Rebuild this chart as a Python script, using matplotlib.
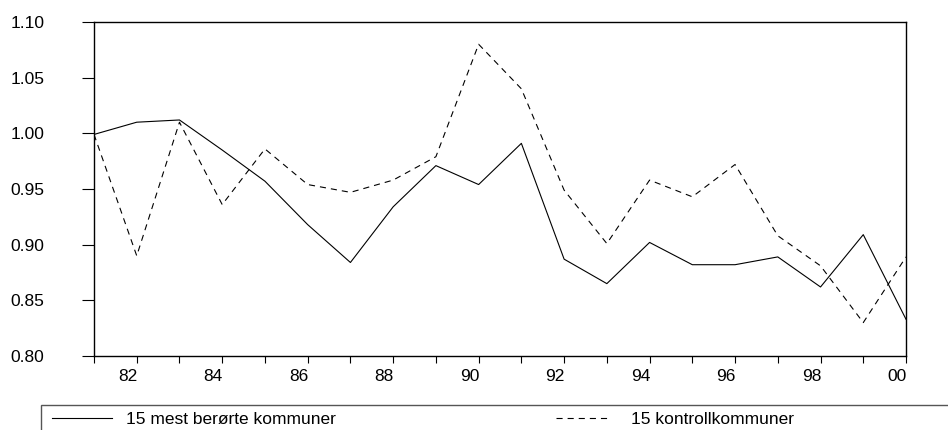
import matplotlib
matplotlib.use('Agg')
import matplotlib.pyplot as plt
from matplotlib.patches import Rectangle
from matplotlib.transforms import ScaledTranslation

plt.rcParams['font.family'] = ['Liberation Sans', 'DejaVu Sans']

years = list(range(1981, 2001))
mest_berorte = [0.999, 1.010, 1.012, 0.985, 0.957, 0.918, 0.884, 0.934, 0.971, 0.954,
                0.991, 0.887, 0.865, 0.902, 0.882, 0.882, 0.889, 0.862, 0.909, 0.833]
kontroll = [0.999, 0.890, 1.010, 0.936, 0.986, 0.954, 0.947, 0.958, 0.979, 1.080,
            1.040, 0.949, 0.901, 0.958, 0.943, 0.972, 0.908, 0.881, 0.830, 0.889]
labels = ['15 mest berørte kommuner', '15 kontrollkommuner']
yticks = [0.80, 0.85, 0.90, 0.95, 1.00, 1.05, 1.10]

FS = 12.5

fig = plt.figure(figsize=(9.48, 4.30), dpi=100)
ax = fig.add_axes([94/948, 1 - 356/430, (906 - 94)/948, (356 - 22)/430])

l1, = ax.plot(years, mest_berorte, color='black', lw=0.8)
l2, = ax.plot(years, kontroll, color='black', lw=0.8, linestyle=(0, (5.5, 4.5)))

ax.set_xlim(1981, 2000)
ax.set_ylim(0.80, 1.10)
ax.set_yticks(yticks)
ax.set_yticklabels([f'{v:.2f}' for v in yticks])
ax.set_xticks([y for y in years if y % 2 == 0])
ax.set_xticklabels([f'{y % 100:02d}' for y in years if y % 2 == 0])
ax.set_xticks([y for y in years if y % 2 == 1], minor=True)

ax.tick_params(axis='y', direction='out', length=8.6, width=0.8, pad=27, labelsize=FS)
ax.tick_params(axis='x', which='both', direction='out', length=5, width=0.8, pad=4.5, labelsize=FS)
for spine in ax.spines.values():
    spine.set_linewidth(1.0)

# labels sit a bit left of their ticks
shift = ScaledTranslation(-9/100, 0, fig.dpi_scale_trans)
for lab in ax.get_xticklabels():
    lab.set_transform(lab.get_transform() + shift)

# legend box running off the figure
fig.patches.append(Rectangle((41/948, -0.2), 1.0, 0.2 + 25/430, transform=fig.transFigure,
                             fill=False, edgecolor='#555555', lw=1.0))
leg1 = fig.legend([l1], [labels[0]], loc='center left', bbox_to_anchor=(52/948, 11/430),
                  frameon=False, fontsize=FS, handlelength=3.45, handletextpad=0.8,
                  borderpad=0, borderaxespad=0)
leg2 = fig.legend([l2], [labels[1]], loc='center left', bbox_to_anchor=(556/948, 11/430),
                  frameon=False, fontsize=FS, handlelength=3.15, handletextpad=1.15,
                  borderpad=0, borderaxespad=0)

fig.savefig('out.png', dpi=100)
